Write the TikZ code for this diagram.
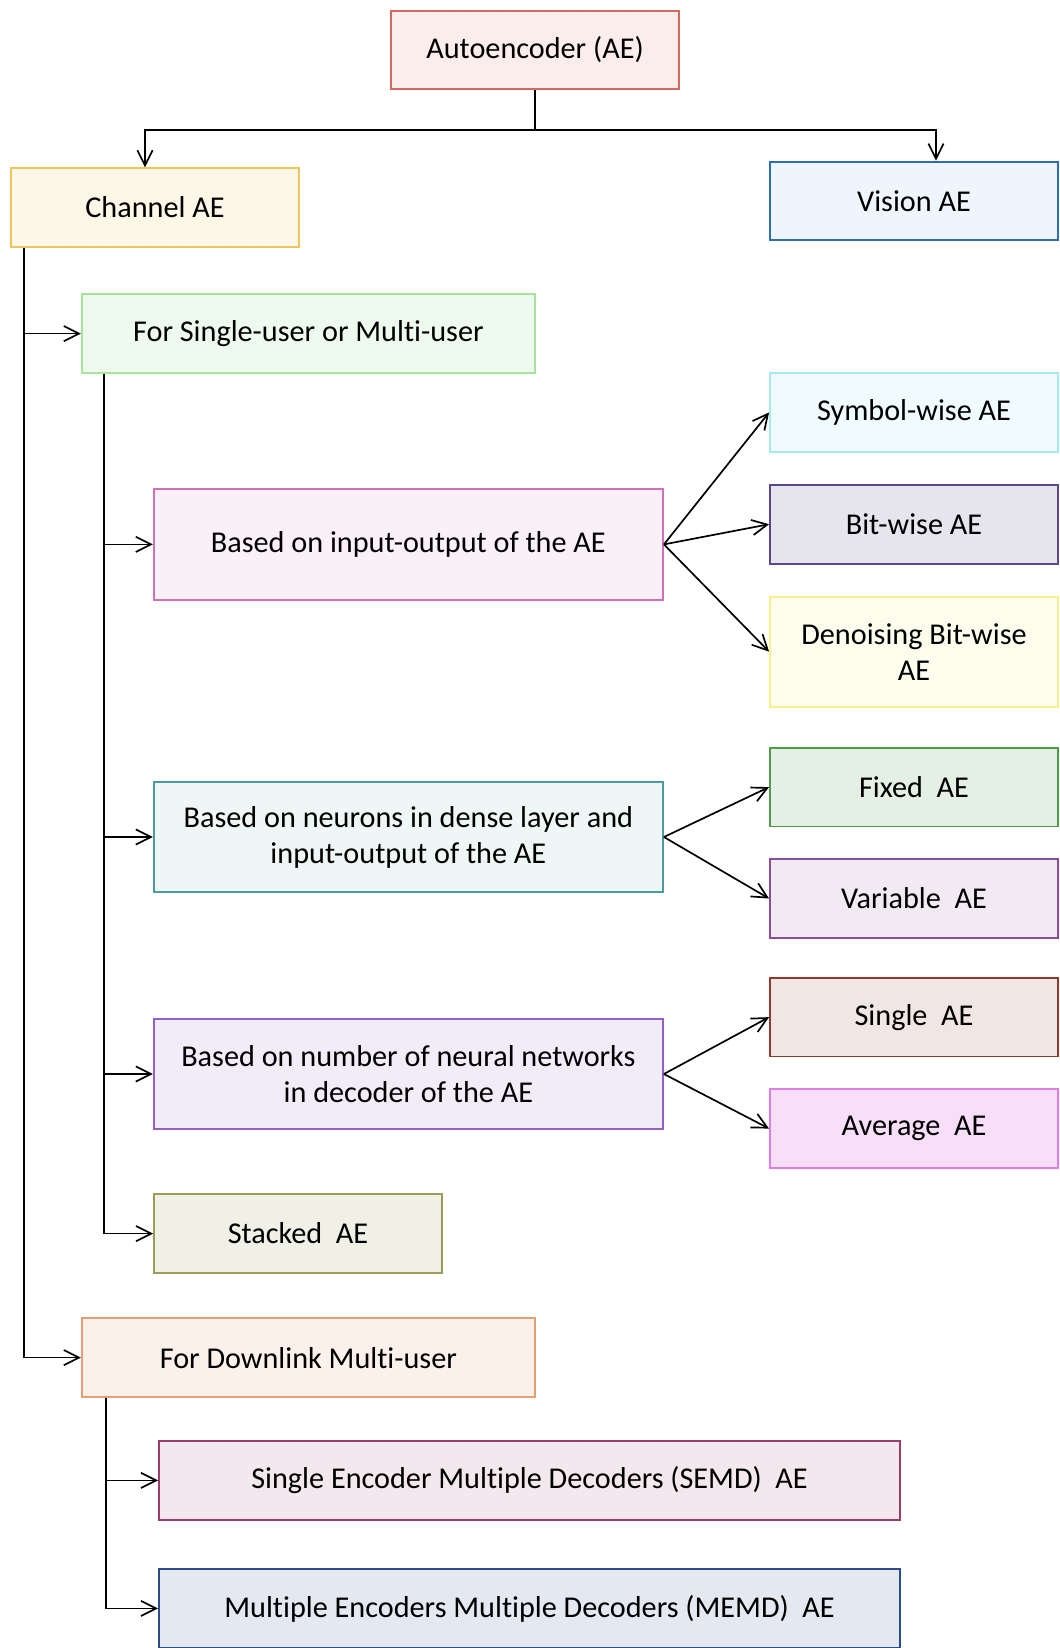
\documentclass[tikz,border=0pt]{standalone}
\usepackage{fontspec}
\setmainfont{Carlito}[Ligatures=NoCommon]
\usepackage{tikz}
\usetikzlibrary{arrows.meta,positioning}
\definecolor{rosered}{RGB}{212,106,94}
\definecolor{gold}{RGB}{240,198,92}
\definecolor{steelblue}{RGB}{46,109,180}
\definecolor{skyfill}{RGB}{238,245,252}
\definecolor{mint}{RGB}{166,228,158}
\definecolor{orchid}{RGB}{208,112,184}
\definecolor{aqua}{RGB}{166,234,240}
\definecolor{indigo}{RGB}{90,72,136}
\definecolor{lemon}{RGB}{244,240,140}
\definecolor{teal}{RGB}{74,154,160}
\definecolor{leaf}{RGB}{78,154,72}
\definecolor{plum}{RGB}{140,76,156}
\definecolor{violet}{RGB}{148,96,200}
\definecolor{rust}{RGB}{138,60,48}
\definecolor{pinkish}{RGB}{224,124,230}
\definecolor{olive}{RGB}{156,156,88}
\definecolor{peach}{RGB}{228,160,112}
\definecolor{maroon}{RGB}{156,60,108}
\definecolor{navy}{RGB}{44,76,140}

\begin{document}
\begin{tikzpicture}[
    box/.style={rectangle,draw=#1,fill=#1!13,line width=1.3pt,minimum width=7.2cm,minimum height=1.97cm,font=\fontsize{21.5}{25.6}\selectfont,align=center},
    conn/.style={line width=1.2pt,black},
    arrow/.style={conn,-{Straight Barb[length=3.8mm,width=3.8mm]}}
]
\useasboundingbox (0,0) rectangle (26.475,-41.2);

% left column
\node[box=rosered,fill=rosered!12] (ae) at (13.375,-1.25) {Autoencoder (AE)};
\node[box=gold,fill=gold!14] (chan) at (3.875,-5.19) {Channel AE};
\node[box=steelblue,fill=skyfill] (vis) at (22.85,-5.025) {Vision AE};
\node[box=mint,fill=mint!18,minimum width=11.33cm] (su) at (7.71,-8.34) {For Single-user or Multi-user};
\node[box=orchid,fill=orchid!10,minimum width=12.73cm,minimum height=2.78cm] (io) at (10.21,-13.61) {Based on input-output of the AE};
\node[box=teal,fill=teal!9,minimum width=12.73cm,minimum height=2.75cm] (neu) at (10.21,-20.925) {Based on neurons in dense layer and\\input-output of the AE};
\node[box=violet,fill=violet!12,minimum width=12.73cm,minimum height=2.75cm] (num) at (10.21,-26.85) {Based on number of neural networks\\in decoder of the AE};
\node[box=olive,fill=olive!15] (stk) at (7.45,-30.84) {Stacked\ \ AE};
\node[box=peach,fill=peach!15,minimum width=11.33cm] (dl) at (7.71,-33.94) {For Downlink Multi-user};
\node[box=maroon,fill=maroon!12,minimum width=18.53cm] (semd) at (13.24,-37.01) {Single Encoder Multiple Decoders (SEMD)\ \ AE};
\node[box=navy,minimum width=18.53cm] (memd) at (13.24,-40.21) {Multiple Encoders Multiple Decoders (MEMD)\ \ AE};

% right column
\node[box=aqua,fill=aqua!18] (sym) at (22.85,-10.31) {Symbol-wise AE};
\node[box=indigo,fill=indigo!15,below=0.78cm of sym] (bit) {Bit-wise AE};
\node[box=lemon,fill=lemon!15,minimum height=2.75cm,below=0.78cm of bit] (den) {Denoising Bit-wise\\AE};
\node[box=leaf,fill=leaf!15,below=0.98cm of den] (fix) {Fixed\ \ AE};
\node[box=plum,fill=plum!12,below=0.77cm of fix] (var) {Variable\ \ AE};
\node[box=rust,below=0.95cm of var] (sgl) {Single\ \ AE};
\node[box=pinkish,fill=pinkish!25,below=0.77cm of sgl] (avg) {Average\ \ AE};

% top split
\path (ae.south) ++(0,-1.0) coordinate (fork);
\draw[conn] (ae.south) -- (fork);
\draw[arrow] (fork) -| ([xshift=-0.25cm]chan.north);
\draw[arrow] (fork) -| ([xshift=0.55cm]vis.north);

% channel branches
\draw[arrow] ([xshift=0.34cm]chan.south west) |- (su.west);
\draw[arrow] ([xshift=0.34cm]chan.south west) |- (dl.west);
\foreach \n in {io,neu,num,stk}
  \draw[arrow] ([xshift=0.575cm]su.south west) |- (\n.west);
\foreach \n in {semd,memd}
  \draw[arrow] ([xshift=0.62cm]dl.south west) |- (\n.west);

% sub-types
\foreach \n in {sym,bit,den}
  \draw[arrow] (io.east) -- (\n.west);
\foreach \n in {fix,var}
  \draw[arrow] (neu.east) -- (\n.west);
\foreach \n in {sgl,avg}
  \draw[arrow] (num.east) -- (\n.west);

\end{tikzpicture}
\end{document}
